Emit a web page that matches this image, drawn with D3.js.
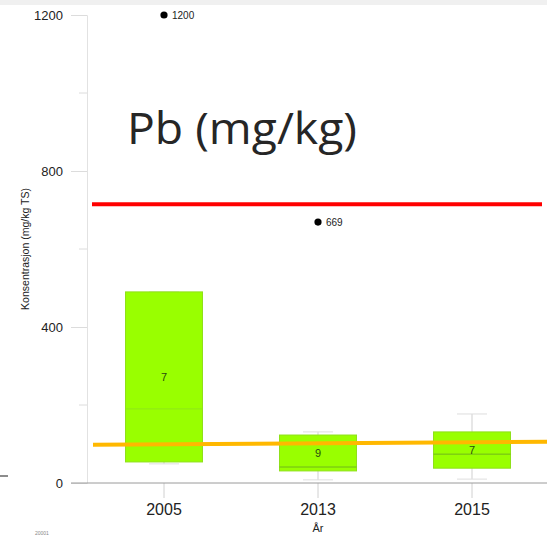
<!DOCTYPE html>
<html>
<head>
<meta charset="utf-8">
<script src="https://cdn.jsdelivr.net/npm/d3@7"></script>
<style>
  body { margin: 0; background: #fff; overflow: hidden; }
  svg { display: block; }
</style>
</head>
<body>
<svg width="547" height="536"></svg>
<script>
var years = ["2005", "2013", "2015"];
var counts = [7, 9, 7];
var q1 = [54, 31, 38];
var median = [190, 41, 74];
var q3 = [490, 123, 131];
var whiskLo = [49, 8, 10];
var whiskHi = [490, 131, 177];
var outliers = [{ year: "2005", value: 1200 }, { year: "2013", value: 669 }];
var yTicks = [0, 400, 800, 1200];
var yMinor = [200, 600, 1000];
var redLimit = 715;
var orangeLimit = [98, 106];

var svg = d3.select("svg");
var width = +svg.attr("width");
var height = +svg.attr("height");

var x = d3.scaleBand().domain(years).range([87, 549]).paddingInner(0).paddingOuter(0);
var y = d3.scaleLinear().domain([0, 1200]).range([483, 15]);
var boxW = x.bandwidth() * 0.5;

// grey strip at the top of the screenshot
svg.append("rect").attr("x", 0).attr("y", 0).attr("width", width).attr("height", 5).attr("fill", "#f0f0f0");

// y axis
var yAxis = svg.append("g").attr("transform", "translate(87,0)")
  .call(d3.axisLeft(y).tickValues(yTicks).tickFormat(d3.format("d")).tickSize(16).tickPadding(8));
yAxis.select(".domain").attr("stroke", "#e2e2e2");
yAxis.selectAll(".tick line").attr("stroke", "#dcdcdc");
yAxis.selectAll(".tick text").attr("fill", "#222").style("font", "13px 'Liberation Sans', Arial, sans-serif");

svg.append("g").selectAll("line").data(yMinor).enter().append("line")
  .attr("x1", 79).attr("x2", 87)
  .attr("y1", function(d) { return y(d); }).attr("y2", function(d) { return y(d); })
  .attr("stroke", "#dcdcdc");

// x axis
var xAxis = svg.append("g").attr("transform", "translate(0,483)")
  .call(d3.axisBottom(x).tickSize(15).tickPadding(6));
xAxis.select(".domain").remove();
xAxis.selectAll(".tick line").attr("stroke", "#d0d0d0");
xAxis.selectAll(".tick text").attr("fill", "#222").style("font", "16px 'Liberation Sans', Arial, sans-serif");
svg.append("line").attr("x1", 71).attr("x2", width).attr("y1", y(0)).attr("y2", y(0)).attr("stroke", "#9a9a9a");

// axis titles
svg.append("text").attr("transform", "translate(29," + 249 + ") rotate(-90)")
  .attr("text-anchor", "middle").attr("fill", "#222")
  .style("font", "10.5px 'Liberation Sans', Arial, sans-serif")
  .text("Konsentrasjon (mg/kg TS)");
svg.append("text").attr("x", x("2013") + x.bandwidth() / 2).attr("y", 532)
  .attr("text-anchor", "middle").attr("fill", "#222")
  .style("font", "11px 'Liberation Sans', Arial, sans-serif").text("År");

// boxes
var box = svg.append("g").selectAll("g").data(years).enter().append("g")
  .attr("transform", function(d) { return "translate(" + (x(d) + x.bandwidth() / 2) + ",0)"; });

box.append("line").attr("x1", 0).attr("x2", 0)
  .attr("y1", function(d, i) { return y(whiskLo[i]); })
  .attr("y2", function(d, i) { return y(whiskHi[i]); })
  .attr("stroke", "#cfcfcf");
box.each(function(d, i) {
  var g = d3.select(this);
  [whiskLo[i], whiskHi[i]].forEach(function(v) {
    g.append("line").attr("x1", -15).attr("x2", 15).attr("y1", y(v)).attr("y2", y(v)).attr("stroke", "#dedede");
  });
});
box.append("rect")
  .attr("x", -boxW / 2).attr("width", boxW)
  .attr("y", function(d, i) { return y(q3[i]); })
  .attr("height", function(d, i) { return y(q1[i]) - y(q3[i]); })
  .attr("fill", "#99ff00").attr("stroke", "#8fe01a").attr("stroke-width", 1);
box.append("line").attr("x1", -boxW / 2).attr("x2", boxW / 2)
  .attr("y1", function(d, i) { return y(median[i]); })
  .attr("y2", function(d, i) { return y(median[i]); })
  .attr("stroke", function(d, i) { return i === 0 ? "#8ee61a" : "#70b818"; }).attr("stroke-width", 1);
box.append("text").attr("text-anchor", "middle")
  .attr("y", function(d, i) { return (y(q1[i]) + y(q3[i])) / 2 + 4; })
  .attr("fill", "#2a4a10")
  .style("font", "11px 'Liberation Sans', Arial, sans-serif")
  .text(function(d, i) { return counts[i]; });

// outliers
var out = svg.append("g").selectAll("g").data(outliers).enter().append("g")
  .attr("transform", function(d) { return "translate(" + (x(d.year) + x.bandwidth() / 2) + "," + y(d.value) + ")"; });
out.append("circle").attr("r", 3.6).attr("fill", "#000");
out.append("text").attr("x", 8).attr("y", 4).attr("fill", "#222")
  .style("font", "10px 'Liberation Sans', Arial, sans-serif")
  .text(function(d) { return d.value; });

// limit lines
svg.append("line").attr("x1", 92).attr("x2", 542)
  .attr("y1", y(redLimit)).attr("y2", y(redLimit))
  .attr("stroke", "#ff0000").attr("stroke-width", 4);
svg.append("line").attr("x1", 93).attr("x2", width)
  .attr("y1", y(orangeLimit[0])).attr("y2", y(orangeLimit[1]))
  .attr("stroke", "#ffb800").attr("stroke-width", 4);

// title
svg.append("text").attr("x", 127).attr("y", 144).attr("fill", "#262626")
  .attr("textLength", 230).attr("lengthAdjust", "spacingAndGlyphs")
  .style("font", "44px 'Open Sans', sans-serif").text("Pb (mg/kg)");

// cut-off bits at the lower left of the screenshot
svg.append("line").attr("x1", 0).attr("x2", 8).attr("y1", 476).attr("y2", 476).attr("stroke", "#666").attr("stroke-width", 1.5);
svg.append("text").attr("x", 35).attr("y", 535).attr("fill", "#888")
  .style("font", "5px 'Liberation Sans', Arial, sans-serif").text("20001");
</script>
</body>
</html>
